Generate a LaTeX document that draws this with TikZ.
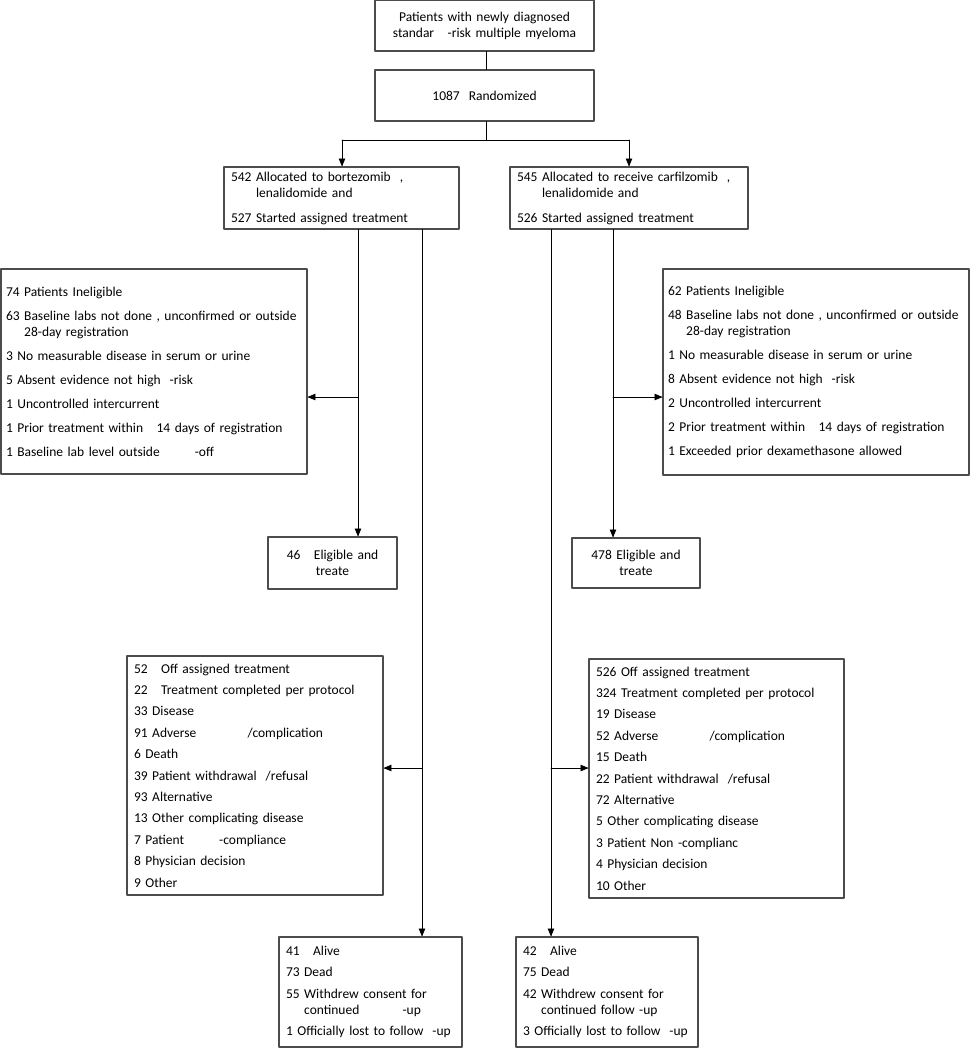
\documentclass[tikz,border=0pt]{standalone}
\usepackage{fontspec}
\setmainfont{Carlito}
\usepackage{tikz}
\usetikzlibrary{arrows}

\begin{document}
\begin{tikzpicture}[line cap=round,line join=round,>=triangle 45,x=1pt,y=-1pt,
  font=\fontsize{13.5}{16}\selectfont,
  cbox/.style={draw=black!70,line width=1.1pt,align=center,inner xsep=7pt,inner ysep=0pt},
  lbox/.style={draw=black!70,line width=1.1pt,align=left,inner xsep=7pt,inner ysep=0pt},
  link/.style={line width=0.8pt}]
\useasboundingbox (0,0) rectangle (971,1050);
% screening and randomisation
\node[cbox,text width=205pt,minimum height=51pt] (top) at (484.5,25.5)
  {Patients with newly diagnosed\\standar\hspace{1em}-risk multiple myeloma};
\node[cbox,text width=205pt,minimum height=51pt] (rand) at (484.5,95.5) {1087\ \ Randomized};
% the two arms
\node[lbox,text width=221pt,minimum height=62pt] (allocL) at (341.5,198)
  {542 Allocated to bortezomib\ \ ,\\\phantom{542 }lenalidomide and\\[9pt]527 Started assigned treatment};
\node[lbox,text width=224pt,minimum height=62pt] (allocR) at (629,198)
  {545 Allocated to receive carfilzomib\ \ ,\\\phantom{545 }lenalidomide and\\[9pt]526 Started assigned treatment};
% ineligible
\node[lbox,inner xsep=5pt,text width=296pt,minimum height=205pt] (inelL) at (154,371.5)
  {74 Patients Ineligible\\[8pt]
   63 Baseline labs not done\ , unconfirmed or outside\\\phantom{63 }28-day registration\\[8pt]
   3 No measurable disease in serum or urine\\[8pt]
   5 Absent evidence not high\ \ -risk\\[8pt]
   1 Uncontrolled intercurrent\\[8pt]
   1 Prior treatment within\ \ \ 14 days of registration\\[8pt]
   1 Baseline lab level outside\hspace{2.6em}-off};
\node[lbox,inner xsep=5pt,text width=296pt,minimum height=206pt] (inelR) at (816,372)
  {62 Patients Ineligible\\[8pt]
   48 Baseline labs not done\ , unconfirmed or outside\\\phantom{48 }28-day registration\\[8pt]
   1 No measurable disease in serum or urine\\[8pt]
   8 Absent evidence not high\ \ -risk\\[8pt]
   2 Uncontrolled intercurrent\\[8pt]
   2 Prior treatment within\ \ \ 14 days of registration\\[8pt]
   1 Exceeded prior dexamethasone allowed};
% eligible
\node[cbox,text width=115pt,minimum height=52pt] (eligL) at (332.5,563) {46\ \ \ Eligible and\\treate};
\node[cbox,text width=114pt,minimum height=50pt] (eligR) at (636,563) {478 Eligible and\\treate};
% off treatment
\node[lbox,text width=242pt,minimum height=239pt] (offL) at (255,775.5)
  {52\ \ \ Off assigned treatment\\[5.4pt]
   22\ \ \ Treatment completed per protocol\\[5.4pt]
   33 Disease\\[5.4pt]
   91 Adverse\hspace{3.8em}/complication\\[5.4pt]
   6 Death\\[5.4pt]
   39 Patient withdrawal\ \ /refusal\\[5.4pt]
   93 Alternative\\[5.4pt]
   13 Other complicating disease\\[5.4pt]
   7 Patient\hspace{2.6em}-compliance\\[5.4pt]
   8 Physician decision\\[5.4pt]
   9 Other};
\node[lbox,text width=241pt,minimum height=239pt] (offR) at (716.5,778.5)
  {526 Off assigned treatment\\[5.4pt]
   324 Treatment completed per protocol\\[5.4pt]
   19 Disease\\[5.4pt]
   52 Adverse\hspace{3.8em}/complication\\[5.4pt]
   15 Death\\[5.4pt]
   22 Patient withdrawal\ \ /refusal\\[5.4pt]
   72 Alternative\\[5.4pt]
   5 Other complicating disease\\[5.4pt]
   3 Patient Non\ -complianc\\[5.4pt]
   4 Physician decision\\[5.4pt]
   10 Other};
% follow-up
\node[lbox,text width=169pt,minimum height=110pt] (endL) at (370.5,992)
  {41\ \ \ Alive\\[5.5pt]
   73 Dead\\[5.5pt]
   55 Withdrew consent for\\\phantom{55 }continued\hspace{3.2em}-up\\[5.5pt]
   1 Officially lost to follow\ \ -up};
\node[lbox,text width=168pt,minimum height=110pt] (endR) at (607,992)
  {42\ \ \ Alive\\[5.5pt]
   75 Dead\\[5.5pt]
   42 Withdrew consent for\\\phantom{42 }continued follow\ -up\\[5.5pt]
   3 Officially lost to follow\ \ -up};
% connectors
\coordinate (split) at (486,140);
\coordinate (spL) at (342,140);
\coordinate (spR) at (629,140);
\coordinate (brIL) at (358,397);
\coordinate (brIR) at (613,397);
\coordinate (brOL) at (422,768);
\coordinate (brOR) at (551,768);
\draw[link] (top.south -| split) -- (rand.north -| split);
\draw[link] (rand.south -| split) -- (split);
\draw[link] (spL) -- (spR);
\draw[->,link] (spL) -- (allocL.north -| spL);
\draw[->,link] (spR) -- (allocR.north -| spR);
\draw[->,link] (allocL.south -| brIL) -- (eligL.north -| brIL);
\draw[->,link] (brIL) -- (brIL -| inelL.east);
\draw[->,link] (allocL.south -| brOL) -- (endL.north -| brOL);
\draw[->,link] (brOL) -- (brOL -| offL.east);
\draw[->,link] (allocR.south -| brIR) -- (eligR.north -| brIR);
\draw[->,link] (brIR) -- (brIR -| inelR.west);
\draw[->,link] (allocR.south -| brOR) -- (endR.north -| brOR);
\draw[->,link] (brOR) -- (brOR -| offR.west);
\end{tikzpicture}
\end{document}
